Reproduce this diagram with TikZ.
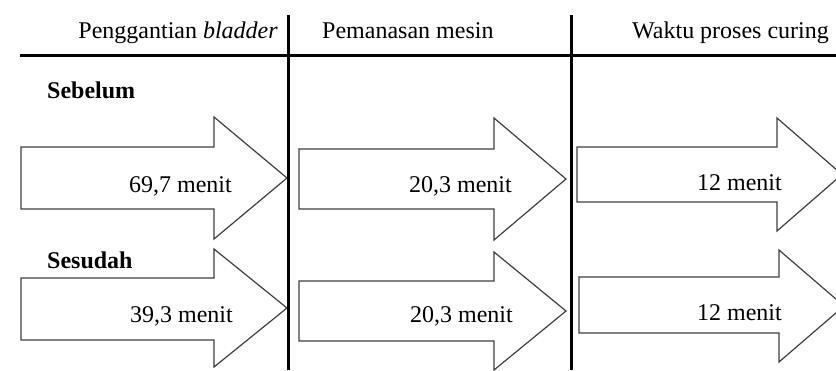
\documentclass[tikz,border=0pt]{standalone}
\usepackage{fontspec}
\setmainfont{Liberation Serif}

% block arrow: #1 left x, #2 body top, #3 body bottom, #4 head x,
% #5 head top, #6 head bottom, #7 tip x
\newcommand\bigarrow[7]{%
  \draw[arrowshape] (#1,#2) -- (#4,#2) -- (#4,#5) -- (#7,{(#5+#6)/2})
    -- (#4,#6) -- (#4,#3) -- (#1,#3) -- cycle;}

\begin{document}
\begin{tikzpicture}[x=1pt,y=-1pt,
  rule/.style={line width=3pt},
  arrowshape/.style={draw=black!75, line width=1.2pt, fill=white, line join=miter},
  txt/.style={inner sep=0pt, font=\fontsize{24}{28}\selectfont},
  label/.style={txt, font=\fontsize{24}{28}\selectfont\bfseries}]
\useasboundingbox (0,0) rectangle (836,370);
\clip (0,0) rectangle (836,370);

% process arrows, before (top row) and after (bottom row)
\bigarrow{21}{147}{209}{214}{117}{239}{287}
\bigarrow{21}{278}{340}{214}{249}{367}{287}
\bigarrow{299}{149}{209}{494}{118}{240}{566}
\bigarrow{299}{281}{341}{494}{252}{370}{566}
\bigarrow{577}{147}{202}{777}{118}{231}{842}
\bigarrow{579}{277}{333}{779}{250}{362}{844}

% table rules
\coordinate (hl) at (20,55);
\coordinate (hr) at (836,55);
\coordinate (v1t) at (288,15);
\coordinate (v1b) at (288,370);
\coordinate (v2t) at (571,15);
\coordinate (v2b) at (571,370);
\draw[rule] (hl) -- (hr);
\draw[rule] (v1t) -- (v1b);
\draw[rule] (v2t) -- (v2b);

% column headers
\node[txt, anchor=base east] (h1) at (278,38) {Penggantian \textit{bladder}};
\node[txt, anchor=base west] (h2) at (322,38) {Pemanasan mesin};
\node[txt, anchor=base west] (h3) at (632,38) {Waktu proses curing};

% row labels
\node[label, anchor=base west] (r1) at (47,98) {Sebelum};
\node[label, anchor=base west] (r2) at (47,268) {Sesudah};

% durations
\node[txt, anchor=base east] (t11) at (232,192) {69,7 menit};
\node[txt, anchor=base east] (t21) at (233,322) {39,3 menit};
\node[txt, anchor=base east] (t12) at (512,192) {20,3 menit};
\node[txt, anchor=base east] (t22) at (513,322) {20,3 menit};
\node[txt, anchor=base east] (t13) at (782,190) {12 menit};
\node[txt, anchor=base east] (t23) at (782,320) {12 menit};
\end{tikzpicture}
\end{document}
